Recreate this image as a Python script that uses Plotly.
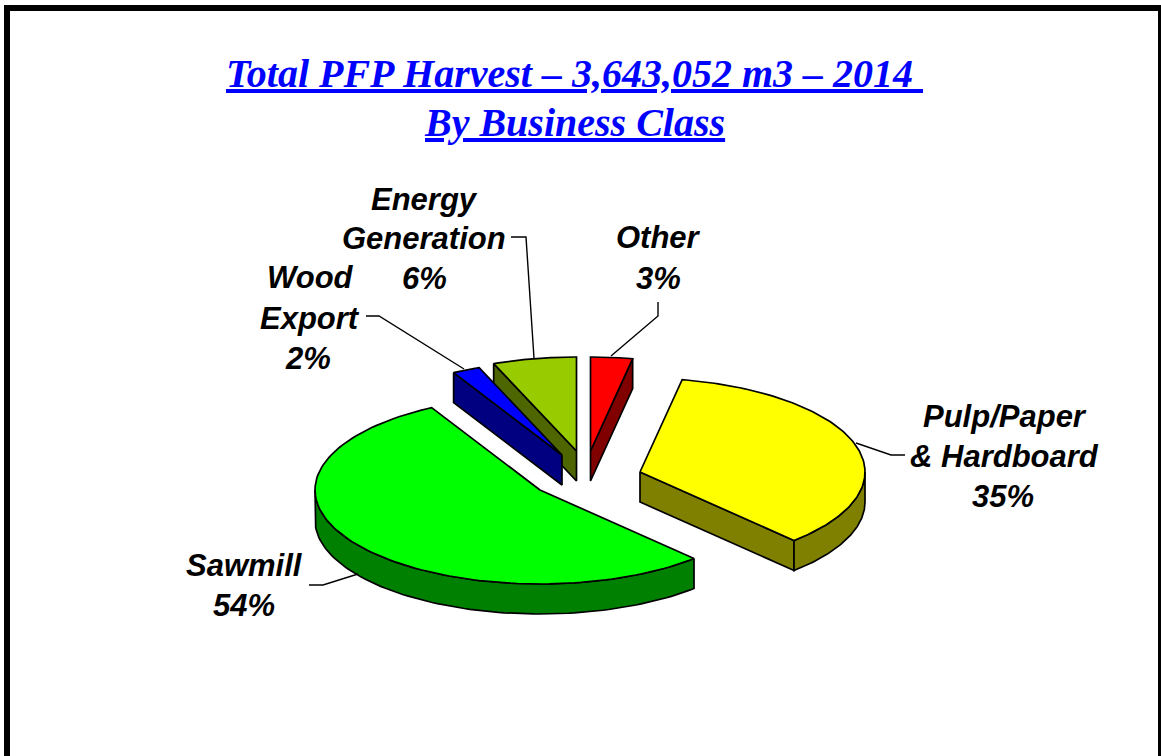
import numpy as np
import plotly.graph_objects as go

# Data, clockwise from 12 o'clock
categories = ["Other", "Pulp/Paper & Hardboard", "Sawmill", "Wood Export", "Energy Generation"]
shares = [3, 35, 54, 2, 6]

# Styling of the slices
top_colors = ["#FF0000", "#FFFF00", "#00FF00", "#0000FF", "#99CC00"]
side_colors = ["#800000", "#808000", "#008000", "#000080", "#4D6600"]
apex_x = [590.5, 640, 540, 562, 576.5]
apex_y = [451, 472, 490, 455, 451]
RX, RY, DEPTH = 225, 94, 30
draw_order = [0, 4, 3, 2, 1]

title_lines = ["Total PFP Harvest – 3,643,052 m3 – 2014 ", "By Business Class"]
labels = [
    ("Energy", 424, 199), ("Generation", 424, 238), ("6%", 424, 278),
    ("Wood", 310, 277), ("Export", 310, 318), ("2%", 308, 358),
    ("Other", 658, 237), ("3%", 658, 278),
    ("Pulp/Paper", 1005, 416), ("& Hardboard", 1004, 456), ("35%", 1003, 496),
    ("Sawmill", 244, 565), ("54%", 244, 605),
]
leaders = [
    ([511, 526, 534], [237, 237, 358]),
    ([366, 379, 464], [316, 316, 369]),
    ([658, 658, 611], [302, 316, 356]),
    ([905, 891, 856], [455, 455, 443]),
    ([309, 323, 358], [585, 585, 574]),
]

fig = go.Figure()


def poly(xs, ys, color):
    fig.add_trace(go.Scatter(x=xs, y=ys, mode="lines", fill="toself", fillcolor=color,
                             line=dict(color="black", width=1.7), hoverinfo="skip",
                             showlegend=False))


def point(cx, cy, t):
    return cx + RX * np.sin(t), cy - RY * np.cos(t)


edges = np.cumsum([0] + shares) / sum(shares) * 2 * np.pi
for i in draw_order:
    a, b = edges[i], edges[i + 1]
    cx, cy = apex_x[i], apex_y[i]
    # radial faces that look toward the viewer
    for t, visible in ((a, np.sin(a) < -1e-9), (b, np.sin(b) > 1e-9)):
        if visible:
            x1, y1 = point(cx, cy, t)
            poly([cx, x1, x1, cx, cx], [cy, y1, y1 + DEPTH, cy + DEPTH, cy], side_colors[i])
    # outer rim on the near half of the ellipse
    lo, hi = max(a, np.pi / 2), min(b, 3 * np.pi / 2)
    if hi > lo:
        t = np.linspace(lo, hi, 90)
        x, y = point(cx, cy, t)
        poly(np.r_[x, x[::-1], x[0]], np.r_[y, y[::-1] + DEPTH, y[0]], side_colors[i])
    # top surface
    t = np.linspace(a, b, 120)
    x, y = point(cx, cy, t)
    poly(np.r_[cx, x, cx], np.r_[cy, y, cy], top_colors[i])

for lx, ly in leaders:
    fig.add_trace(go.Scatter(x=lx, y=ly, mode="lines", line=dict(color="black", width=1.4),
                             hoverinfo="skip", showlegend=False))

for text, x, y in labels:
    fig.add_annotation(x=x, y=y, xref="x", yref="y", text=f"<b><i>{text}</i></b>", showarrow=False,
                       font=dict(family="Liberation Sans", size=31, color="black"))

for text, y in zip(title_lines, (73, 122)):
    fig.add_annotation(x=574.5, y=y, xref="x", yref="y", text=f"<b><i><u>{text}</u></i></b>",
                       showarrow=False, font=dict(family="Liberation Serif", size=40, color="#0000FF"))

frame = dict(type="rect", xref="x", yref="y", layer="above", line=dict(width=0), fillcolor="black")
fig.add_shape(x0=4, x1=10, y0=5, y1=756, **frame)
fig.add_shape(x0=4, x1=1161, y0=5, y1=11, **frame)
fig.add_shape(x0=1158, x1=1161, y0=5, y1=756, **frame)

fig.update_layout(width=1161, height=756, margin=dict(l=0, r=0, t=0, b=0),
                  paper_bgcolor="white", plot_bgcolor="white", showlegend=False,
                  xaxis=dict(range=[0, 1161], visible=False, fixedrange=True),
                  yaxis=dict(range=[756, 0], visible=False, fixedrange=True))
fig.write_html("out.html", config=dict(displayModeBar=False),
               post_script="document.body.style.margin='0';document.documentElement.style.overflow='hidden';")
